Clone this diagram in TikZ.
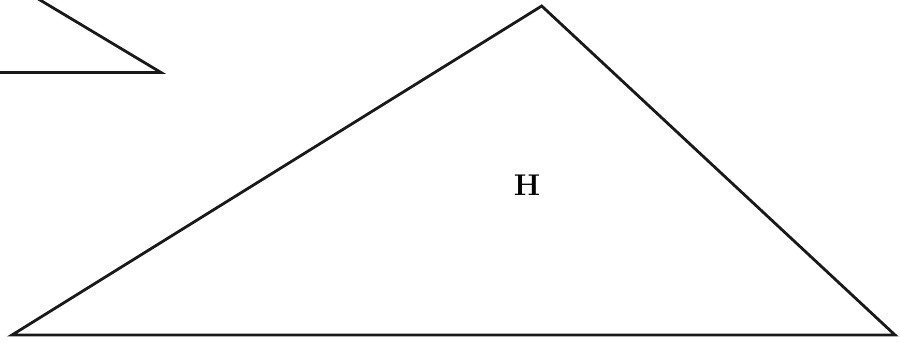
\documentclass[tikz,border=0pt]{standalone}
\begin{document}
\begin{tikzpicture}[x=1pt,y=-1pt,
  edge/.style={line width=2.8pt,line join=miter,black!90},
  lbl/.style={font=\fontsize{30}{30}\selectfont\bfseries,inner sep=0pt}]
\useasboundingbox (0,0) rectangle (900,341);
\clip (0,0) rectangle (900,341);
\coordinate (sA) at (-2,72.5);
\coordinate (sB) at (161,72.5);
\coordinate (sD) at (30,-6);
\draw[edge] (sA) -- (sB) -- (sD);
\coordinate (L) at (12,335);
\coordinate (T) at (541.7,6);
\coordinate (R) at (895,335);
\draw[edge] (L) -- (T) -- (R) -- cycle;
\node[lbl] (H) at (527,185) {H};
\end{tikzpicture}
\end{document}
